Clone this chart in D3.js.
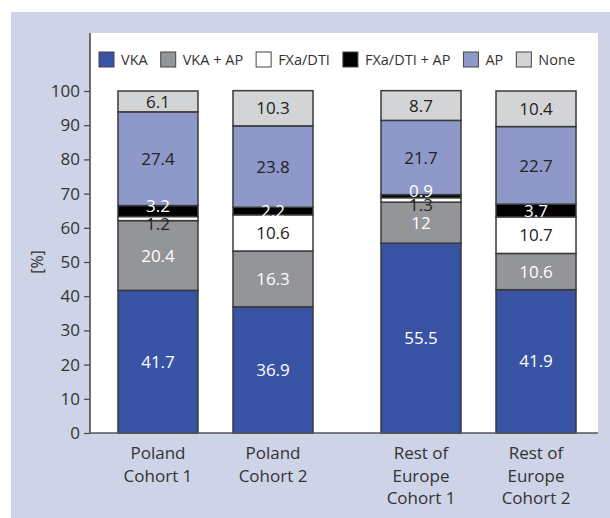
<!DOCTYPE html>
<html><head><meta charset="utf-8">
<script src="https://cdn.jsdelivr.net/npm/d3@7"></script>
<style>body{margin:0;background:#fff}svg{display:block}text{font-family:"Open Sans",sans-serif}</style>
</head><body><svg id="c" width="610" height="518"></svg>
<script>
const groups = ["Poland", "Rest of Europe"];
const cohorts = ["Cohort 1", "Cohort 2"];
const xLabels = [["Poland","Cohort 1"],["Poland","Cohort 2"],["Rest of","Europe","Cohort 1"],["Rest of","Europe","Cohort 2"]];
const seriesNames = ["VKA", "VKA + AP", "FXa/DTI", "FXa/DTI + AP", "AP", "None"];
const seriesColors = ["#3953a4", "#939598", "#ffffff", "#000000", "#8f99c9", "#d3d4d6"];
const labelColors = ["#ffffff", "#ffffff", "#222222", "#ffffff", "#222222", "#222222"];
const VKA        = [41.7, 36.9, 55.5, 41.9];
const VKA_AP     = [20.4, 16.3, 12, 10.6];
const FXa        = [1.2, 10.6, 1.3, 10.7];
const FXa_AP     = [3.2, 2.2, 0.9, 3.7];
const AP         = [27.4, 23.8, 21.7, 22.7];
const None       = [6.1, 10.3, 8.7, 10.4];
const yTicks = [0,10,20,30,40,50,60,70,80,90,100];

const seriesValues = [VKA, VKA_AP, FXa, FXa_AP, AP, None];
const bars = [];
groups.forEach((g, gi) => cohorts.forEach((c, ci) => bars.push({g, c, i: gi*2+ci})));

const svg = d3.select("#c");
svg.append("rect").attr("x",11).attr("y",12).attr("width",599).attr("height",506).attr("fill","#ced3e7");
const L = 90, R = 598, T = 33, B = 433;
svg.append("rect").attr("x",L).attr("y",T).attr("width",R-L).attr("height",B-T).attr("fill","#fff");

const y = d3.scaleLinear().domain([0,100]).range([B, 91]);
const xo = d3.scaleBand().domain(groups).range([L, R]).paddingInner(68/263).paddingOuter(0.095).align(0.56);
const xi = d3.scaleBand().domain(cohorts).range([0, xo.bandwidth()]).paddingInner(35/115).paddingOuter(0);

// bars
bars.forEach(b => {
  const x0 = xo(b.g) + xi(b.c), w = xi.bandwidth();
  let cum = 0;
  const segs = seriesValues.map((vals, si) => { const s = {si, v: vals[b.i], y0: cum, y1: cum + vals[b.i], off: 0}; cum += vals[b.i]; return s; });
  // spread labels of adjacent thin segments apart
  for (let k = 0; k < segs.length - 1; k++) {
    if (segs[k].v < 4 && segs[k+1].v < 4) { segs[k].off = 5; segs[k+1].off = -5; }
  }
  const g = svg.append("g");
  g.selectAll("rect").data(segs).join("rect")
    .attr("x", x0).attr("width", w)
    .attr("y", d => y(d.y1)).attr("height", d => y(d.y0) - y(d.y1))
    .attr("fill", d => seriesColors[d.si]).attr("stroke", "#3a3a3a").attr("stroke-width", 1.5);
  g.selectAll("text").data(segs).join("text")
    .attr("x", x0 + w/2).attr("y", d => y((d.y0 + d.y1)/2) + d.off).attr("dy", "0.36em")
    .attr("text-anchor","middle").attr("font-size", 17).attr("fill", d => labelColors[d.si])
    .text(d => d.v);
});

// y axis
const ya = svg.append("g").attr("transform", `translate(${L},0)`)
  .call(d3.axisLeft(y).tickValues(yTicks).tickSize(6).tickPadding(4));
ya.select(".domain").attr("d", `M0,${T}V${B}`).attr("stroke","#444").attr("stroke-width",1.5);
ya.selectAll(".tick line").attr("stroke","#444").attr("stroke-width",1.2);
ya.selectAll(".tick text").attr("font-family","Open Sans").attr("font-size",17).attr("fill","#333");
svg.append("line").attr("x1",L).attr("x2",R).attr("y1",B).attr("y2",B).attr("stroke","#555").attr("stroke-width",1.5);

svg.append("text").attr("transform", `translate(37,${y(50)}) rotate(-90)`).attr("dy","0.36em")
  .attr("text-anchor","middle").attr("font-size",16).attr("fill","#333").text("[%]");

// x labels
bars.forEach(b => {
  const cx = xo(b.g) + xi(b.c) + xi.bandwidth()/2;
  const t = svg.append("text").attr("x", cx).attr("y", 459).attr("text-anchor","middle").attr("font-size",17).attr("fill","#333");
  xLabels[b.i].forEach((line, li) => t.append("tspan").attr("x", cx).attr("dy", li ? 22.5 : 0).text(line));
});

// legend
const lg = svg.append("g");
let lx = 99;
seriesNames.forEach((n, i) => {
  lg.append("rect").attr("x", lx).attr("y", 52).attr("width", 15).attr("height", 15)
    .attr("fill", seriesColors[i]).attr("stroke", "#444").attr("stroke-width", 1);
  const t = lg.append("text").attr("x", lx + 22).attr("y", 60).attr("dy","0.36em").attr("font-size",14.5).attr("fill","#333").text(n);
  lx = lx + 22 + t.node().getComputedTextLength() + 13;
});
</script></body></html>
